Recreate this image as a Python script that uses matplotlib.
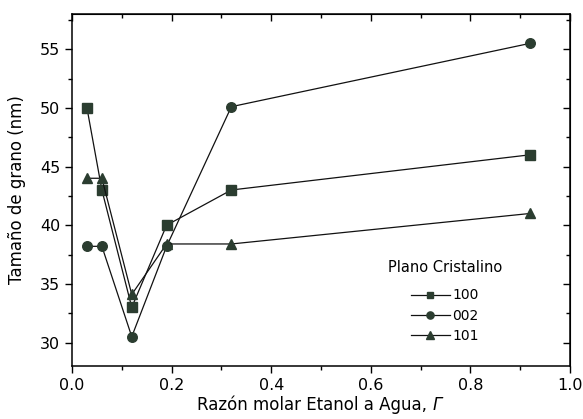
import matplotlib
matplotlib.use("Agg")
import matplotlib.pyplot as plt
from matplotlib.ticker import MultipleLocator, FormatStrFormatter

plt.rcParams['font.family'] = ['DejaVu Sans']

ratio = [0.03, 0.06, 0.12, 0.19, 0.32, 0.92]
plane_labels = ["100", "002", "101"]
size_100 = [50.0, 43.0, 33.0, 40.0, 43.0, 46.0]
size_002 = [38.2, 38.2, 30.5, 38.2, 50.1, 55.5]
size_101 = [44.0, 44.0, 34.1, 38.4, 38.4, 41.0]

color = '#2b3d30'
fig = plt.figure(figsize=(5.83, 4.19), dpi=100)
ax = fig.add_axes([0.1235, 0.1265, 0.8542, 0.8401])

series = [size_100, size_002, size_101]
markers = ['s', 'o', '^']
msizes = [6.6, 6.9, 7.4]
for vals, m, lab, ms in zip(series, markers, plane_labels, msizes):
    ax.plot(ratio, vals, color='#111111', lw=0.9, marker=m, ms=ms,
            mfc=color, mec=color, label=lab)

ax.set_xlim(0.0, 1.0)
ax.set_ylim(28, 58)
ax.xaxis.set_major_locator(MultipleLocator(0.2))
ax.xaxis.set_minor_locator(MultipleLocator(0.1))
ax.yaxis.set_major_locator(MultipleLocator(5))
ax.yaxis.set_minor_locator(MultipleLocator(2.5))
ax.set_yticks([30, 35, 40, 45, 50, 55])
ax.tick_params(axis='both', which='both', direction='out', labelsize=11.5, width=1)
ax.tick_params(which='major', length=5)
ax.tick_params(which='minor', length=3)
ax.xaxis.set_major_formatter(FormatStrFormatter('%.1f'))

# inward ticks on top/right
sec_x = ax.secondary_xaxis('top')
sec_x.xaxis.set_major_locator(MultipleLocator(0.2))
sec_x.xaxis.set_minor_locator(MultipleLocator(0.1))
sec_x.tick_params(which='both', direction='in', labeltop=False, width=1)
sec_x.tick_params(which='major', length=5)
sec_x.tick_params(which='minor', length=3)
sec_y = ax.secondary_yaxis('right')
sec_y.yaxis.set_major_locator(MultipleLocator(5))
sec_y.yaxis.set_minor_locator(MultipleLocator(2.5))
sec_y.tick_params(which='both', direction='in', labelright=False, width=1)
sec_y.tick_params(which='major', length=5)
sec_y.tick_params(which='minor', length=3)

for s in ax.spines.values():
    s.set_linewidth(1.1)

xl = ax.set_xlabel('Razón molar Etanol a Agua, ', fontsize=12, labelpad=2)
ax.set_ylabel('Tamaño de grano (nm)', fontsize=12, labelpad=10)

leg = ax.legend(title='Plano Cristalino', loc='upper center',
                bbox_to_anchor=(445 / 583, (419 - 247) / 419),
                bbox_transform=fig.transFigure,
                frameon=False, fontsize=10, title_fontsize=10.5, handlelength=2.8,
                handletextpad=0.2, labelspacing=0.45, markerscale=0.75)
leg._legend_box.align = 'center'
leg._legend_box.sep = 10

# italic Gamma right after the x label
xl.set_x(0.5 - 0.012)
fig.canvas.draw()
bb = xl.get_window_extent()
fig.text(bb.x1 / fig.bbox.width, bb.y0 / fig.bbox.height, 'Γ', fontsize=12,
         fontstyle='italic', va='bottom', ha='left')

fig.savefig('out.png', dpi=100)
